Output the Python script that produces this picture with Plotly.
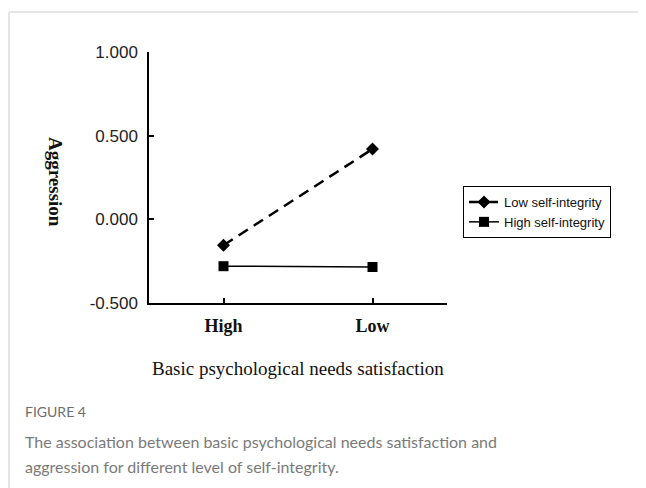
import plotly.graph_objects as go

categories = ["High", "Low"]
x_pos = [0, 1]
low_integrity = [-0.155, 0.42]
high_integrity = [-0.28, -0.285]
y_ticks = [-0.5, 0.0, 0.5, 1.0]
y_tick_labels = [f"{v:.3f}" for v in y_ticks]

OFF = 8  # default page body margin
W, H = 646 - OFF, 488 - OFF
L, R, T, B = 149 - OFF, 447 - OFF, 52 - OFF, 303 - OFF

def px(x):
    return (x - OFF - L) / (R - L)

def py(y):
    return (B - (y - OFF)) / (B - T)

fig = go.Figure()
fig.add_trace(go.Scatter(
    x=x_pos, y=low_integrity, name="Low self-integrity", mode="lines+markers",
    line=dict(color="black", width=2.5, dash="11px,7px"),
    marker=dict(symbol="diamond", size=10, color="black"),
))
fig.add_trace(go.Scatter(
    x=x_pos, y=high_integrity, name="High self-integrity", mode="lines+markers",
    line=dict(color="black", width=1.5),
    marker=dict(symbol="square", size=10, color="black"),
))

serif = "Liberation Serif, Times New Roman, serif"
sans = "Liberation Sans, Arial, sans-serif"
cap = "Lato, Open Sans, sans-serif"

fig.update_layout(
    width=W, height=H,
    margin=dict(l=L, r=W - R, t=T, b=H - B, pad=0),
    paper_bgcolor="white", plot_bgcolor="white",
    showlegend=True,
    legend=dict(
        x=px(463), y=py(186), xanchor="left", yanchor="top",
        bordercolor="black", borderwidth=1, bgcolor="white",
        font=dict(family=sans, size=13, color="#111"),
        tracegroupgap=0, itemwidth=30,
    ),
    xaxis=dict(
        range=[-0.5, 1.5], tickvals=x_pos + [1.5],
        ticktext=[f"<b>{c}</b>" for c in categories] + [""],
        showline=True, linecolor="black", linewidth=1.5,
        ticks="inside", ticklen=5, tickcolor="black", tickwidth=1.5,
        showgrid=False, zeroline=False,
        tickfont=dict(family=serif, size=18, color="#111"),
    ),
    yaxis=dict(
        range=[-0.5, 1.0], tickvals=y_ticks, ticktext=y_tick_labels,
        showline=True, linecolor="black", linewidth=1.5,
        ticks="inside", ticklen=5, tickcolor="black", tickwidth=1.5,
        showgrid=False, zeroline=False,
        tickfont=dict(family=sans, size=17, color="#222"),
    ),
)

fig.update_xaxes(ticklabelstandoff=6)
fig.update_yaxes(ticklabelstandoff=6)

# page border (top and left)
fig.add_shape(type="line", xref="paper", yref="paper",
              x0=px(9), x1=px(646), y0=py(12), y1=py(12),
              line=dict(color="#dcdcdc", width=1.5))
fig.add_shape(type="line", xref="paper", yref="paper",
              x0=px(9), x1=px(9), y0=py(12), y1=py(488),
              line=dict(color="#dcdcdc", width=1.5))

fig.add_annotation(text="<b>Aggression</b>", textangle=90, showarrow=False,
                   xref="paper", yref="paper", x=px(56), y=py(182),
                   xanchor="center", yanchor="middle",
                   font=dict(family=serif, size=19, color="#111"))
fig.add_annotation(text="Basic psychological needs satisfaction", showarrow=False,
                   xref="paper", yref="paper", x=px(298), y=py(368),
                   xanchor="center", yanchor="middle",
                   font=dict(family=serif, size=19, color="#111"))
fig.add_annotation(text="FIGURE 4", showarrow=False, xanchor="left", yanchor="middle",
                   xref="paper", yref="paper", x=px(23), y=py(411),
                   font=dict(family=cap, size=14, color="#6d6d6d"))
fig.add_annotation(text="The association between basic psychological needs satisfaction and",
                   showarrow=False, xanchor="left", yanchor="middle",
                   xref="paper", yref="paper", x=px(23), y=py(441),
                   font=dict(family=cap, size=16, color="#7a7a7a"))
fig.add_annotation(text="aggression for different level of self-integrity.",
                   showarrow=False, xanchor="left", yanchor="middle",
                   xref="paper", yref="paper", x=px(23), y=py(467),
                   font=dict(family=cap, size=16, color="#7a7a7a"))

fig.write_html("out.html")
